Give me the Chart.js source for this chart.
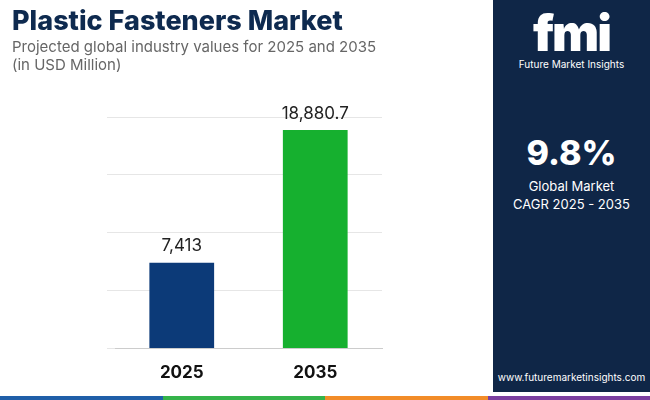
<!DOCTYPE html>
<html>
<head>
<meta charset="utf-8">
<script src="https://cdn.jsdelivr.net/npm/chart.js@4"></script>
<style>
  body { margin: 0; width: 650px; height: 400px; overflow: hidden; background: #fff; font-family: Inter, "Noto Sans", sans-serif; position: relative; }
  #title { position: absolute; left: 12px; top: 4px; font-size: 27px; font-weight: 800; color: #0e2a4f; }
  #sub { position: absolute; left: 12px; top: 38px; font-size: 15px; color: #666; line-height: 18px; }
  #chartBox { position: absolute; left: 0; top: 0; width: 493px; height: 392px; }
  #side { position: absolute; left: 493px; top: 0; width: 157px; height: 392px; background: #0f2647; color: #fff; text-align: center; }
  #logo { margin-top: 8px; font-size: 50px; font-weight: 900; letter-spacing: -2px; line-height: 50px; }
  #logoTxt { font-size: 10px; }
  #cagr { margin-top: 62px; font-size: 34px; font-weight: 800; }
  #cagrTxt { font-size: 13px; line-height: 18px; margin-top: 4px; }
  #site { position: absolute; bottom: 9px; width: 100%; font-size: 10px; }
  #strip { position: absolute; left: 0; bottom: 0; width: 650px; height: 4px; display: flex; }
  #strip div { flex: 1; }
</style>
</head>
<body>
<div id="chartBox"><canvas id="chart"></canvas></div>
<div id="title">Plastic Fasteners Market</div>
<div id="sub">Projected global industry values for 2025 and 2035<br>(in USD Million)</div>
<div id="side">
  <div id="logo">fmi</div>
  <div id="logoTxt">Future Market Insights</div>
  <div id="cagr">9.8%</div>
  <div id="cagrTxt">Global Market<br>CAGR 2025 - 2035</div>
  <div id="site">www.futuremarketinsights.com</div>
</div>
<div id="strip"><div style="background:#1f5fa8"></div><div style="background:#35b34a"></div><div style="background:#f28c28"></div><div style="background:#7b3fa0"></div></div>
<script>
// Datos del gráfico
const years = ['2025', '2035'];
const values = [7413, 18880.7];
const valueLabels = ['7,413', '18,880.7'];
const barColors = ['#0c3a78', '#16b02f'];

// Etiquetas encima de las barras
const topLabels = {
    id: 'topLabels',
    afterDatasetsDraw(chart) {
        const ctx = chart.ctx;
        const meta = chart.getDatasetMeta(0);
        ctx.save();
        ctx.font = '17px Inter, "Noto Sans", sans-serif';
        ctx.fillStyle = '#222';
        ctx.textAlign = 'center';
        ctx.textBaseline = 'bottom';
        meta.data.forEach((bar, i) => {
            ctx.fillText(valueLabels[i], bar.x, bar.y - 8);
        });
        ctx.restore();
    }
};

const ctx = document.getElementById('chart').getContext('2d');
new Chart(ctx, {
    type: 'bar',
    data: {
        labels: years,
        datasets: [{
            data: values,
            backgroundColor: barColors,
            barPercentage: 1,
            categoryPercentage: 0.485
        }]
    },
    options: {
        responsive: true,
        maintainAspectRatio: false,
        animation: false,
        layout: { padding: { left: 107, right: 111, top: 117, bottom: 3 } },
        plugins: { legend: { display: false }, tooltip: { enabled: false } },
        scales: {
            x: {
                grid: { display: false },
                border: { color: '#ccc' },
                ticks: { color: '#111', font: { size: 17, weight: 'bold', family: 'Inter' }, padding: 6 }
            },
            y: {
                min: 0,
                max: 20000,
                ticks: { display: false, stepSize: 5000 },
                border: { display: false },
                grid: { color: '#e6e6e6' }
            }
        }
    },
    plugins: [topLabels]
});
</script>
</body>
</html>
